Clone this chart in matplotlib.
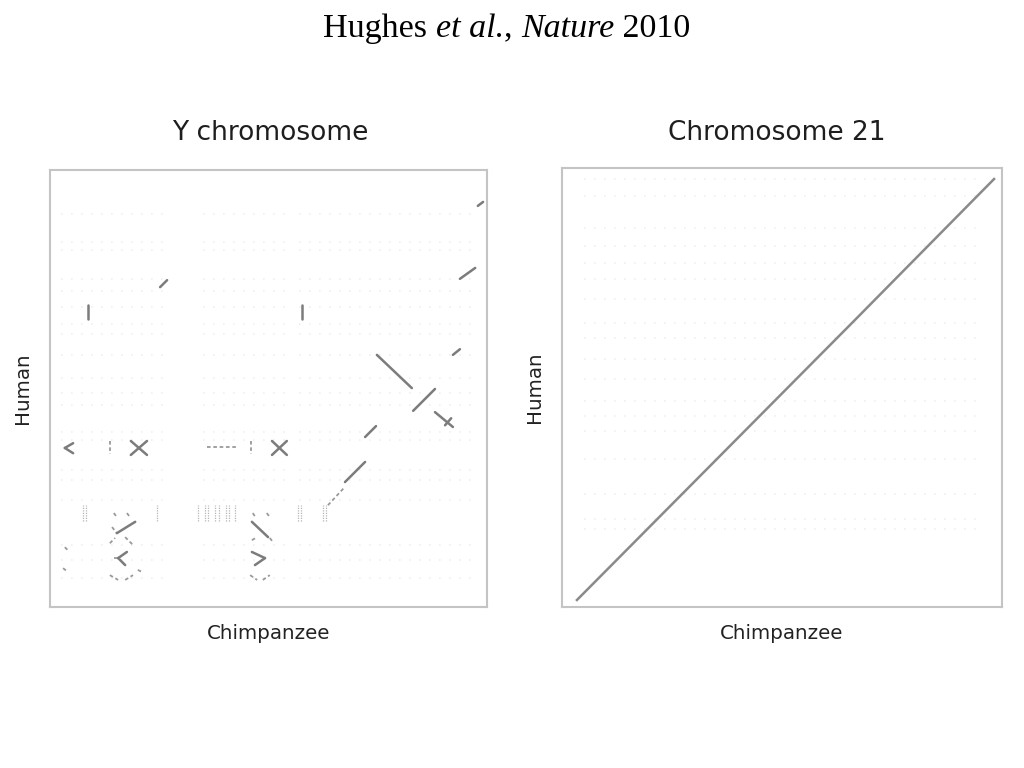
#!/usr/bin/env python3
# -*- coding: utf-8 -*-
"""
Dot plots Human x Chimpanzee (Hughes et al., Nature 2010).
Y chromosome vs. chromosome 21. Positions in % of the sequence length.
"""

import matplotlib
matplotlib.use("Agg")
import matplotlib.pyplot as plt
from matplotlib.transforms import offset_copy

# ---------- 1. DATA (x = chimpanzee %, y = human %) ----------
# Y chromosome: clear alignment segments
y_strong = [
    [(97.9, 91.8), (99.1, 92.7)],
    [(93.8, 75.1), (97.3, 77.6)],
    [(25.2, 73.2), (26.8, 74.8)],
    [(8.7, 69.1), (8.7, 65.9)],
    [(57.7, 69.1), (57.7, 65.9)],
    [(74.8, 57.7), (82.8, 50.1)],
    [(83.1, 44.9), (88.1, 49.9)],
    [(92.2, 57.7), (93.8, 59.0)],
    [(88.1, 44.6), (92.2, 41.2)],
    [(90.4, 41.6), (91.8, 43.2)],
    [(72.1, 38.9), (74.6, 41.4)],
    [(67.5, 28.6), (72.1, 33.2)],
    [(18.5, 38.0), (22.2, 34.8)],
    [(18.5, 34.8), (22.2, 38.0)],
    [(50.8, 38.0), (54.2, 34.8)],
    [(50.8, 34.8), (54.2, 38.0)],
    [(5.3, 37.5), (3.4, 36.4)],
    [(3.4, 36.4), (5.3, 35.2)],
    [(15.3, 16.9), (19.5, 19.5)],
    [(15.6, 11.2), (17.6, 12.6)],
    [(15.6, 11.2), (17.2, 9.6)],
    [(46.2, 19.5), (49.9, 16.0)],
    [(46.2, 12.6), (49.2, 11.2)],
    [(46.9, 9.6), (49.2, 11.2)],
]

# Y chromosome: broken / weaker segments
y_weak = [
    [(63.6, 23.3), (67.5, 27.5)],
    [(13.7, 38.0), (13.7, 35.0)],
    [(46.0, 38.0), (46.0, 35.0)],
    [(35.9, 36.6), (42.8, 36.6)],
    [(14.2, 18.3), (15.3, 16.9)],
    [(14.6, 21.5), (15.3, 20.6)],
    [(17.6, 21.5), (18.3, 20.6)],
    [(13.7, 14.6), (14.9, 15.8)],
    [(17.2, 16.0), (19.0, 14.2)],
    [(14.7, 11.2), (16.0, 11.2)],
    [(3.4, 13.7), (4.1, 13.0)],
    [(3.0, 8.9), (4.1, 8.0)],
    [(13.7, 7.3), (15.6, 6.2)],
    [(17.2, 6.2), (19.0, 7.3)],
    [(20.1, 8.5), (21.1, 8.0)],
    [(46.2, 15.3), (47.4, 16.0)],
    [(50.3, 15.8), (51.0, 14.9)],
    [(46.4, 21.5), (47.0, 20.6)],
    [(49.6, 21.5), (50.3, 20.6)],
    [(45.8, 7.3), (47.4, 6.2)],
    [(48.7, 6.2), (50.3, 7.3)],
]

# Y chromosome: short vertical repeats ("II", "nnnn")
y_repeat_x = [7.6, 8.2, 24.5, 33.8, 35.4, 36.2, 37.8, 38.6, 40.2, 41.0, 42.3, 56.8, 57.4, 62.5, 63.1]
y_repeat_lo = 19.7
y_repeat_hi = 23.3

# Y chromosome: faint background hit rows (human %) and chimp blocks
y_rows = [90.0, 83.5, 81.8, 75.0, 72.3, 68.6, 64.8, 62.4, 57.7, 52.4, 49.0, 46.2,
          40.0, 38.2, 31.4, 29.1, 24.5, 14.2, 10.8, 6.6]
y_blocks = [(2.5, 26.5), (35.0, 55.0), (57.0, 98.0)]

# Chromosome 21: single collinear alignment
c21_chimp = [3.4, 66.1, 98.2]
c21_human = [1.6, 64.9, 97.5]

# Chromosome 21: faint background hit rows
c21_rows = [97.5, 93.6, 86.3, 82.2, 78.4, 74.7, 70.2, 64.7, 61.3, 56.5,
            51.9, 46.9, 43.5, 40.1, 33.7, 25.7, 20.0, 17.8]
c21_blocks = [(5.0, 95.0)]

# Header pieces (text, italic?)
header = [("Hughes ", False), ("et al.", True), (", ", False),
          ("Nature", True), (" 2010", False)]

# ---------- 2. FIGURE ----------
fig = plt.figure(figsize=(10.24, 7.68), dpi=100)
fig.patch.set_facecolor('white')

# header: pieces laid side by side, then centred
renderer = fig.canvas.get_renderer()
pieces = []
x_off = 0.0
for txt, ital in header:
    t = fig.text(0, 0.963, txt, family='Liberation Serif', fontsize=24.5,
                 style='italic' if ital else 'normal', va='center',
                 transform=offset_copy(fig.transFigure, fig=fig, x=x_off, y=0, units='dots'))
    w = t.get_window_extent(renderer).width
    pieces.append(t)
    x_off += w
start = 0.5 * 1024 - x_off / 2 - 5
for t in pieces:
    t.set_x(start / 1024)

ax1 = fig.add_axes([0.0488, 0.2096, 0.4268, 0.569])
ax2 = fig.add_axes([0.5488, 0.2096, 0.4297, 0.5716])


def style_axes(ax, title, title_x):
    ax.set_xlim(0, 100)
    ax.set_ylim(0, 100)
    ax.set_xticks([])
    ax.set_yticks([])
    for s in ax.spines.values():
        s.set_color('#c4c4c4')
        s.set_linewidth(1.5)
    fig.text(title_x, 1 - 133 / 768, title, fontsize=19, color='#1e1e1e',
             ha='center', va='center')
    ax.set_xlabel('Chimpanzee', fontsize=14.3, color='#222222', labelpad=12)
    ax.set_ylabel('Human', fontsize=14.3, color='#222222', labelpad=13)


def faint_rows(ax, rows, blocks):
    for yv in rows:
        for x0, x1 in blocks:
            ax.plot([x0, x1], [yv, yv], color='#f0f0f0', lw=1.2,
                    linestyle=(0, (1, 5)), zorder=1)


# Y chromosome
faint_rows(ax1, y_rows, y_blocks)
for (x0, y0), (x1, y1) in y_strong:
    ax1.plot([x0, x1], [y0, y1], color='#7c7c7c', lw=1.8,
             solid_capstyle='round', zorder=3)
for (x0, y0), (x1, y1) in y_weak:
    ax1.plot([x0, x1], [y0, y1], color='#9a9a9a', lw=1.3,
             linestyle=(0, (2, 1.5)), zorder=2)
for xv in y_repeat_x:
    ax1.plot([xv, xv], [y_repeat_lo, y_repeat_hi], color='#b5b5b5', lw=0.9,
             linestyle=(0, (1, 1)), zorder=2)
style_axes(ax1, 'Y chromosome', 270 / 1024)

# Chromosome 21
faint_rows(ax2, c21_rows, c21_blocks)
ax2.plot(c21_chimp, c21_human, color='#8a8a8a', lw=1.8, zorder=3)
style_axes(ax2, 'Chromosome 21', 777 / 1024)

fig.savefig('out.png', dpi=100, facecolor='white')
print("saved out.png")
